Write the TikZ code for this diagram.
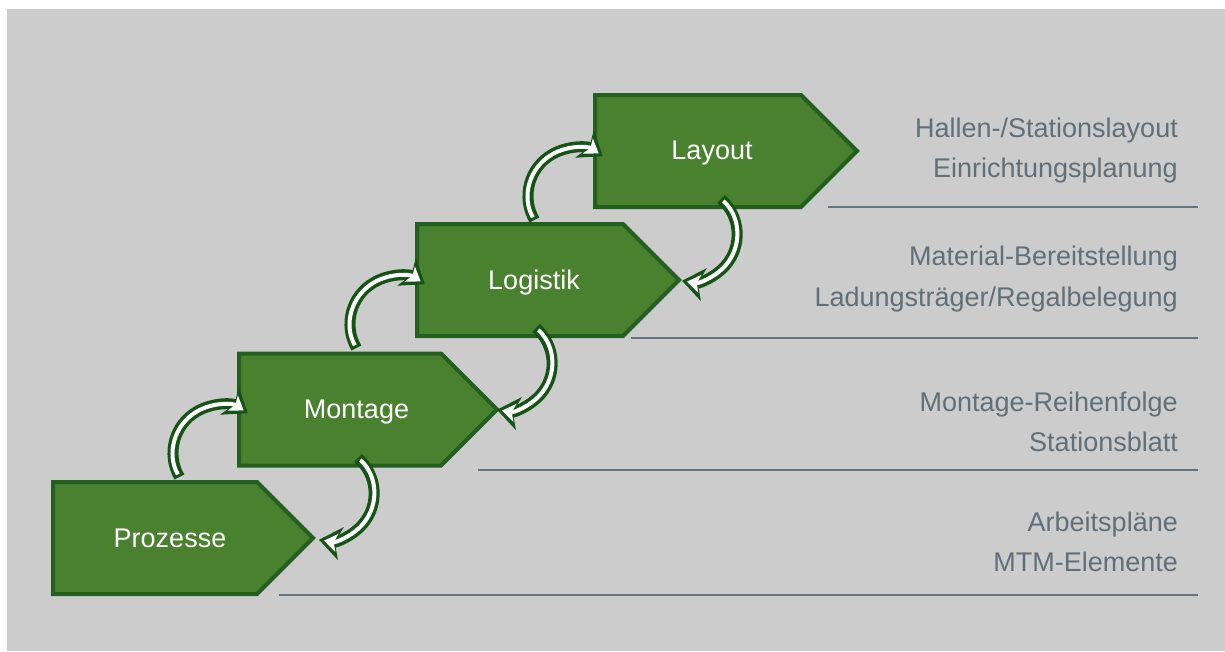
\documentclass[tikz,border=0pt]{standalone}
\usepackage{fontspec}
\setmainfont{Liberation Sans}
\usetikzlibrary{arrows.meta}
\definecolor{bggray}{RGB}{204,204,204}
\definecolor{stagefill}{RGB}{74,129,47}
\definecolor{stageline}{RGB}{35,95,30}
\definecolor{arrowdark}{RGB}{22,84,22}
\definecolor{notegray}{RGB}{97,111,121}
\definecolor{rulegray}{RGB}{100,115,125}
\begin{document}
\begin{tikzpicture}[x=1pt,y=1pt,
  stagebox/.style={fill=stagefill,draw=stageline,line width=4pt,line join=miter},
  stagelabel/.style={text=white,font=\fontsize{27}{31}\selectfont,inner sep=0pt,anchor=base},
  note/.style={text=notegray,font=\fontsize{27}{31}\selectfont,anchor=base east,inner sep=0pt},
  rule/.style={draw=rulegray,line width=2pt},
  arrowouter/.style={draw=arrowdark,line width=11pt,-{Stealth[length=22pt,width=33pt,inset=6pt]}},
  arrowinner/.style={draw=white,line width=4pt,shorten >=5pt,shorten <=3pt,-{Stealth[length=13pt,width=18pt,inset=3pt]}},
]
\useasboundingbox (0,0) rectangle (1225,-651);
\fill[bggray] (7,-9) rectangle (1225,-651);

% rules
\coordinate (r1a) at (279,-595);  \coordinate (r1b) at (1198,-595);
\coordinate (r2a) at (478,-470);  \coordinate (r2b) at (1198,-470);
\coordinate (r3a) at (631,-337.5);\coordinate (r3b) at (1198,-337.5);
\coordinate (r4a) at (828,-207);  \coordinate (r4b) at (1198,-207);
\draw[rule] (r1a) -- (r1b);
\draw[rule] (r2a) -- (r2b);
\draw[rule] (r3a) -- (r3b);
\draw[rule] (r4a) -- (r4b);

% stages
\draw[stagebox] (53,-482) -- (257,-482) -- (313,-538) -- (257,-594) -- (53,-594) -- cycle;
\draw[stagebox] (239,-353.5) -- (441,-353.5) -- (497,-409.5) -- (441,-465.5) -- (239,-465.5) -- cycle;
\draw[stagebox] (417,-224) -- (623,-224) -- (679,-280) -- (623,-336) -- (417,-336) -- cycle;
\draw[stagebox] (595,-95) -- (801,-95) -- (857,-151) -- (801,-207) -- (595,-207) -- cycle;

\node[stagelabel] (prozesse) at (170,-547) {Prozesse};
\node[stagelabel] (montage) at (356.5,-418) {Montage};
\node[stagelabel] (logistik) at (534,-289) {Logistik};
\node[stagelabel] (layout) at (712,-159.5) {Layout};

% notes
\node[note] (n1) at (1178,-137) {Hallen-/Stationslayout};
\node[note] (n2) at (1178,-177) {Einrichtungsplanung};
\node[note] (n3) at (1178,-265) {Material-Bereitstellung};
\node[note] (n4) at (1178,-306) {Ladungsträger/Regalbelegung};
\node[note] (n5) at (1178,-411) {Montage-Reihenfolge};
\node[note] (n6) at (1178,-451) {Stationsblatt};
\node[note] (n7) at (1178,-531) {Arbeitspläne};
\node[note] (n8) at (1178,-571) {MTM-Elemente};

% up arrows (arcs)
\coordinate (u1) at (179.4,-477);
\coordinate (u2) at (356.4,-348);
\coordinate (u3) at (534.4,-220);
\foreach \s in {u1,u2,u3}{
  \draw[arrowouter] (\s) arc[start angle=210,end angle=56,radius=48];
  \draw[arrowinner] (\s) arc[start angle=210,end angle=56,radius=48];
}

% down arrows (arcs)
\coordinate (d1) at (358,-458);
\coordinate (d2) at (536,-328);
\coordinate (d3) at (721,-199);
\foreach \s in {d1,d2,d3}{
  \draw[arrowouter] (\s) arc[start angle=49,end angle=-100,radius=47];
  \draw[arrowinner] (\s) arc[start angle=49,end angle=-100,radius=47];
}
\end{tikzpicture}
\end{document}
